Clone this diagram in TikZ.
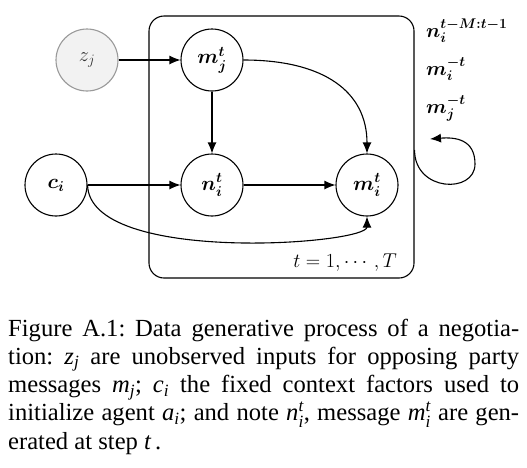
\RequirePackage{fix-cm}
\documentclass[tikz,border=0pt]{standalone}
\usepackage{amsmath,bm}
\usepackage[no-math]{fontspec}
\newfontfamily\capfont{Liberation Serif}
\usetikzlibrary{arrows.meta}
\newcommand\cv[1]{\textit{#1}}
\begin{document}
\frenchspacing
\begin{tikzpicture}[x=1pt,y=-1pt,
  var/.style={circle,draw,line width=1.1pt,minimum size=62pt,inner sep=0pt,
    font=\fontsize{20.5}{22}\selectfont\boldmath},
  latent/.style={var,draw=gray!80,fill=gray!10,text=black!80,
    font=\fontsize{20.5}{22}\selectfont\unboldmath},
  edge/.style={line width=1.1pt,-{Latex[length=11pt,width=9pt]}},
  platebox/.style={draw,line width=1.1pt,rounded corners=15pt,inner sep=0pt},
  side/.style={anchor=base west,inner sep=0pt,font=\fontsize{20}{22}\selectfont\boldmath},
  capline/.style={anchor=base west,inner sep=0pt,font=\capfont\fontsize{24.6}{28}\selectfont}
]
\useasboundingbox (0,0) rectangle (527,467);
% plate
\node[platebox,minimum width=265pt,minimum height=262pt] (plate) at (281.5,147) {};
% variables
\node[latent] (zj) at (87,60) {$z_j$};
\node[var] (mj) at (212,60) {$m_j^t$};
\node[var] (ci) at (56,185) {$c_i$};
\node[var] (ni) at (212,185) {$n_i^t$};
\node[var] (mi) at (367,185) {$m_i^t$};
\node[anchor=base east,inner sep=0pt,font=\fontsize{20}{22}\selectfont] (tlab) at (397,267) {$t=1,\cdots,T$};
% side labels
\node[side] (s1) at (426,37) {$n_i^{t-M:t-1}$};
\node[side] (s2) at (426,75) {$m_i^{-t}$};
\node[side] (s3) at (426,113) {$m_j^{-t}$};
% edges
\draw[edge] (zj) -- (mj);
\draw[edge] (mj) -- (ni);
\draw[edge] (ci) -- (ni);
\draw[edge] (ni) -- (mi);
\draw[edge] (mj.east) .. controls +(80,0) and +(0,-62) .. (mi.north);
\draw[edge] (ci.east) .. controls +(2,80) and +(0,28) .. (mi.south);
% loop
\coordinate (lp0) at (plate.east |- 0,150);
\coordinate (lp1) at (475,164);
\coordinate (lp2) at (430,139);
\draw[edge] (lp0) .. controls +(0,42) and +(0,30) .. (lp1) .. controls +(0,-25) and +(25,-2) .. (lp2);
% caption
\node[capline] (c1) at (8,336) {\makebox[511pt][s]{Figure A.1: Data generative process of a negotia-}};
\node[capline] (c2) at (8,364.25) {\makebox[511pt][s]{tion: $\cv{z}_{\cv{j}}$ are unobserved inputs for opposing party}};
\node[capline] (c3) at (8,392.5) {\makebox[511pt][s]{messages $\cv{m}_{\cv{j}}$; $\cv{c}_{\cv{i}}$ the fixed context factors used to}};
\node[capline] (c4) at (8,420.75) {\makebox[511pt][s]{initialize agent $\cv{a}_{\cv{i}}$; and note $\cv{n}_{\cv{i}}^{\cv{t}}$, message $\cv{m}_{\cv{i}}^{\cv{t}}$ are gen-}};
\node[capline] (c5) at (8,449) {erated at step $\cv{t}\,$.};
\end{tikzpicture}
\end{document}
